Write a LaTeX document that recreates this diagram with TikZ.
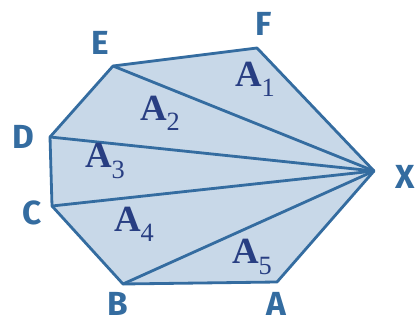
\documentclass[tikz,border=0pt]{standalone}
\usepackage{fontspec}
\usepackage{xcolor}
\setsansfont{Fira Sans}
\newfontfamily\areafont{Liberation Serif}
\usetikzlibrary{positioning}
\definecolor{hexfill}{RGB}{200,216,232}
\definecolor{hexline}{RGB}{52,108,160}
\definecolor{areatxt}{RGB}{40,62,130}
\newcommand{\area}[1]{{\bfseries A}\raisebox{-0.28em}{\fontsize{15}{16}\selectfont #1}}

\begin{document}
\begin{tikzpicture}[
  x=0.02cm, y=-0.02cm,
  edge/.style={draw=hexline,line width=1.6pt,line join=round},
  vlab/.style={text=hexline,font=\sffamily\bfseries\fontsize{19}{21}\selectfont,inner sep=0pt},
  alab/.style={text=areatxt,font=\areafont\fontsize{21}{23}\selectfont,inner sep=0pt}
]
\useasboundingbox (0,0) rectangle (418,327);
% corners of the polygon
\coordinate (X) at (374,171);
\coordinate (F) at (257,48);
\coordinate (E) at (113,66);
\coordinate (D) at (50,137);
\coordinate (C) at (52,206);
\coordinate (B) at (123,284);
\coordinate (A) at (277,282);

\fill[hexfill] (X) -- (F) -- (E) -- (D) -- (C) -- (B) -- (A) -- cycle;
\draw[edge] (X) -- (F) -- (E) -- (D) -- (C) -- (B) -- (A) -- cycle;
\draw[edge] (X) -- (E);
\draw[edge] (X) -- (D);
\draw[edge] (X) -- (C);
\draw[edge] (X) -- (B);

% vertex names
\node[vlab] (lX) at (405,177) {X};
\node[vlab] (lF) at (264,24) {F};
\node[vlab] (lE) at (100,43) {E};
\node[vlab] (lD) at (23,137) {D};
\node[vlab] (lC) at (32,213) {C};
\node[vlab] (lB) at (118,304) {B};
\node[vlab] (lA) at (276,304) {A};

% areas
\node[alab] (a1) at (255,79) {\area{1}};
\node[alab] (a2) at (160,113) {\area{2}};
\node[alab] (a3) at (105,161) {\area{3}};
\node[alab] (a4) at (134,224) {\area{4}};
\node[alab] (a5) at (252,257) {\area{5}};
\end{tikzpicture}
\end{document}
